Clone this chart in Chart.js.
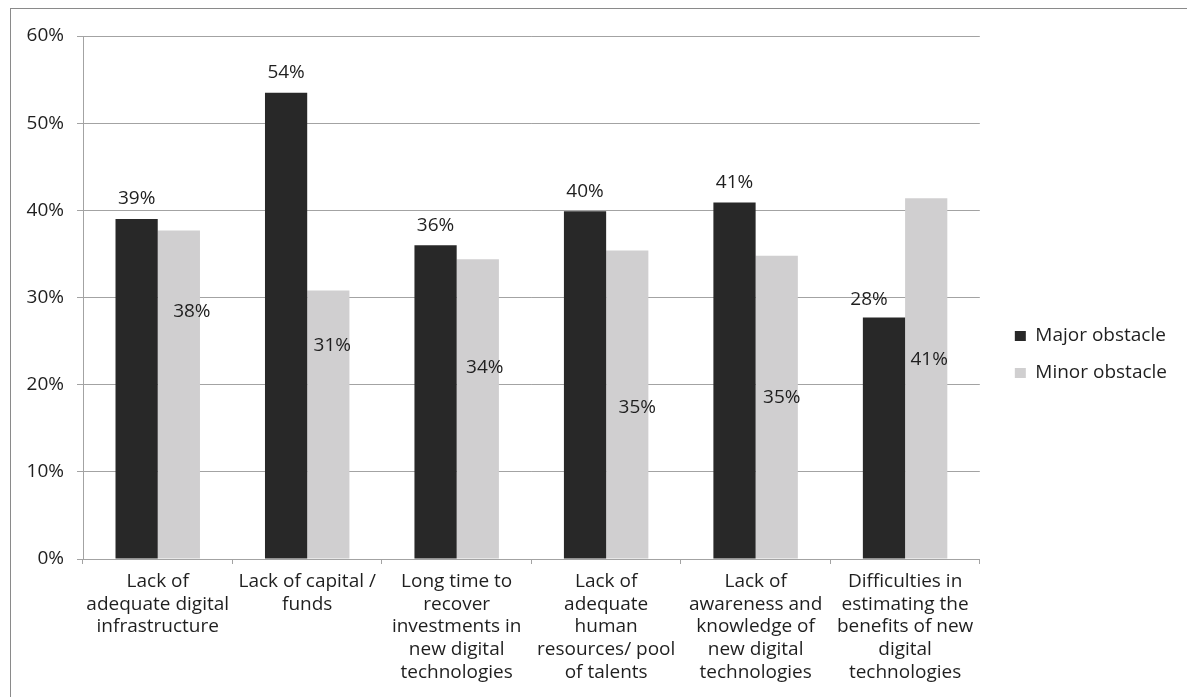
<!DOCTYPE html>
<html>
<head>
<meta charset="utf-8">
<script src="https://cdn.jsdelivr.net/npm/chart.js@4/dist/chart.umd.min.js"></script>
<style>
  html, body { margin: 0; padding: 0; background: #fff; overflow: hidden; }
  #frame { position: absolute; left: 10px; top: 8px; width: 1400px; height: 900px; border: 1px solid #8a8a8a; border-width: 1px 0 0 1px; }
  #wrap { position: absolute; left: 0; top: 0; width: 1187px; height: 697px; }
</style>
</head>
<body>
<div id="frame"></div>
<div id="wrap"><canvas id="chart"></canvas></div>
<script>
const categories = [
    ["Lack of", "adequate digital", "infrastructure"],
    ["Lack of capital /", "funds"],
    ["Long time to", "recover", "investments in", "new digital", "technologies"],
    ["Lack of", "adequate", "human", "resources/ pool", "of talents"],
    ["Lack of", "awareness and", "knowledge of", "new digital", "technologies"],
    ["Difficulties in", "estimating the", "benefits of new", "digital", "technologies"]
];
const seriesNames = ["Major obstacle", "Minor obstacle"];
const majorValues = [39.0, 53.5, 36.0, 39.9, 40.9, 27.7];
const minorValues = [37.7, 30.8, 34.4, 35.4, 34.8, 41.4];
const yTicks = [0, 10, 20, 30, 40, 50, 60];

// hand-placed value labels: [dx, dy] from the top centre of each bar
const labelNudge = [
    [[0, -20], [0, -20], [0, -20], [0, -20], [0, -20], [-15, -18]],
    [[13, 81], [4, 55], [7, 108], [10, 157], [5, 142], [3, 161]]
];

const FONT = "'Open Sans', 'DejaVu Sans', sans-serif";
const textColor = "#1f1f1f";
const gridColor = "#a3a3a3";

const valueLabels = {
    id: "valueLabels",
    afterDatasetsDraw(chart) {
        const ctx = chart.ctx;
        ctx.save();
        ctx.font = "19px " + FONT;
        ctx.fillStyle = textColor;
        ctx.textAlign = "center";
        ctx.textBaseline = "middle";
        chart.data.datasets.forEach((ds, di) => {
            chart.getDatasetMeta(di).data.forEach((bar, i) => {
                const [dx, dy] = labelNudge[di][i];
                ctx.fillText(Math.round(ds.data[i]) + "%", bar.x + dx, bar.y + dy);
            });
        });
        ctx.restore();
    }
};

// legend sits a little further from the plot than Chart.js puts it
const legendShift = {
    id: "legendShift",
    afterLayout(chart) {
        const lg = chart.legend;
        const dx = chart.chartArea.right + 17 - lg.left;
        lg.left += dx;
        lg.right += dx;
        lg.top -= 12;
        lg.bottom -= 12;
    }
};

new Chart(document.getElementById("chart"), {
    type: "bar",
    data: {
        labels: categories,
        datasets: [
            {
                label: seriesNames[0],
                data: majorValues,
                backgroundColor: "#282828",
                categoryPercentage: 0.565,
                barPercentage: 1.0
            },
            {
                label: seriesNames[1],
                data: minorValues,
                backgroundColor: "#d0cfd0",
                categoryPercentage: 0.565,
                barPercentage: 1.0
            }
        ]
    },
    options: {
        responsive: true,
        maintainAspectRatio: false,
        animation: false,
        layout: { padding: { top: 36, right: 27, left: 0, bottom: 0 } },
        plugins: {
            tooltip: { enabled: false },
            legend: {
                position: "right",
                labels: {
                    color: textColor,
                    font: { family: FONT, size: 19 },
                    boxWidth: 11,
                    boxHeight: 10,
                    padding: 18
                }
            }
        },
        scales: {
            x: {
                grid: {
                    display: true,
                    drawOnChartArea: false,
                    drawTicks: true,
                    tickLength: 5,
                    color: gridColor,
                    offset: true
                },
                border: { color: gridColor },
                ticks: {
                    color: textColor,
                    font: { family: FONT, size: 19, lineHeight: 1.2 },
                    maxRotation: 0,
                    autoSkip: false,
                    padding: 6
                },
                afterFit(scale) { scale.height = 138; }
            },
            y: {
                min: 0,
                max: 60,
                afterBuildTicks(scale) {
                    scale.ticks = yTicks.map(v => ({ value: v }));
                },
                grid: {
                    color: gridColor,
                    tickLength: 6
                },
                border: { color: gridColor },
                ticks: {
                    color: textColor,
                    font: { family: FONT, size: 19 },
                    padding: 13,
                    callback: v => v + "%"
                },
                afterFit(scale) { scale.width = 83; }
            }
        }
    },
    plugins: [valueLabels, legendShift]
});
</script>
</body>
</html>
